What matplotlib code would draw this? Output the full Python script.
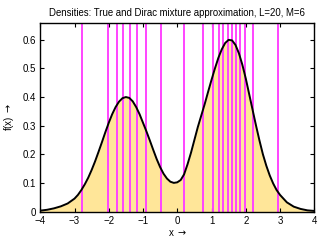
import matplotlib
matplotlib.use("Agg")
import matplotlib.pyplot as plt

# ── Data ─────────────────────────────────────────────────────────────────────
density_x = [-4.0, -3.8, -3.6, -3.4, -3.2, -3.0, -2.9, -2.8, -2.7, -2.6,
             -2.5, -2.4, -2.3, -2.2, -2.1, -2.0, -1.9, -1.8, -1.7, -1.6,
             -1.5, -1.4, -1.3, -1.2, -1.1, -1.0, -0.9, -0.8, -0.7, -0.6,
             -0.5, -0.4, -0.3, -0.2, -0.1, 0.0, 0.1, 0.2, 0.3, 0.4,
             0.5, 0.6, 0.7, 0.8, 0.9, 1.0, 1.1, 1.2, 1.3, 1.4,
             1.5, 1.6, 1.7, 1.8, 1.9, 2.0, 2.1, 2.2, 2.3, 2.4,
             2.5, 2.6, 2.7, 2.8, 2.9, 3.0, 3.2, 3.4, 3.6, 3.8, 4.0]
density_y = [0.003, 0.006, 0.011, 0.018, 0.028, 0.045, 0.058, 0.075, 0.095, 0.118,
             0.145, 0.175, 0.208, 0.242, 0.277, 0.31, 0.34, 0.365, 0.384, 0.396,
             0.40, 0.397, 0.385, 0.365, 0.34, 0.31, 0.28, 0.248, 0.215, 0.183,
             0.155, 0.132, 0.115, 0.104, 0.10, 0.102, 0.11, 0.13, 0.165, 0.205,
             0.25, 0.295, 0.335, 0.375, 0.418, 0.46, 0.5, 0.537, 0.567, 0.589,
             0.60, 0.598, 0.582, 0.553, 0.513, 0.465, 0.41, 0.355, 0.3, 0.248,
             0.2, 0.16, 0.126, 0.098, 0.075, 0.058, 0.032, 0.017, 0.009, 0.004, 0.002]

dirac_x = [-2.79, -2.03, -1.77, -1.58, -1.38, -1.18, -0.92, -0.47, 0.20, 0.75,
           1.03, 1.22, 1.34, 1.47, 1.60, 1.71, 1.84, 1.98, 2.20, 2.95]

x_ticks = [-4, -3, -2, -1, 0, 1, 2, 3, 4]
y_ticks = [0, 0.1, 0.2, 0.3, 0.4, 0.5, 0.6]

plt.rcParams["font.family"] = ["Liberation Sans", "DejaVu Sans"]
plt.rcParams["font.size"] = 7

fig = plt.figure(figsize=(3.22, 2.41), dpi=100)
ax = fig.add_axes([0.125, 0.1224, 0.851, 0.7836])

ax.fill_between(density_x, 0, density_y, color="#FFE699", linewidth=0, zorder=1)
for xv in dirac_x:
    ax.axvline(xv, color="#FF44FF", linewidth=1.4, zorder=2)
ax.plot(density_x, density_y, color="black", linewidth=1.4, zorder=3)

ax.set_xlim(-4, 4)
ax.set_ylim(0, 0.66)
ax.set_xticks(x_ticks)
ax.set_xticklabels(["\u22124", "\u22123", "\u22122", "\u22121", "0", "1", "2", "3", "4"])
ax.set_yticks(y_ticks)
ax.set_yticklabels(["0", "0.1", "0.2", "0.3", "0.4", "0.5", "0.6"])
ax.tick_params(direction="in", length=3, width=0.8, top=True, right=True, pad=3)
for spine in ax.spines.values():
    spine.set_linewidth(1.0)

ax.set_title("Densities: True and Dirac mixture approximation, L=20, M=6",
             fontsize=6.9, pad=5)
ax.set_xlabel(r"x $\rightarrow$", labelpad=2)
ax.set_ylabel(r"f(x) $\rightarrow$", labelpad=5)

fig.savefig("out.png", dpi=100)
